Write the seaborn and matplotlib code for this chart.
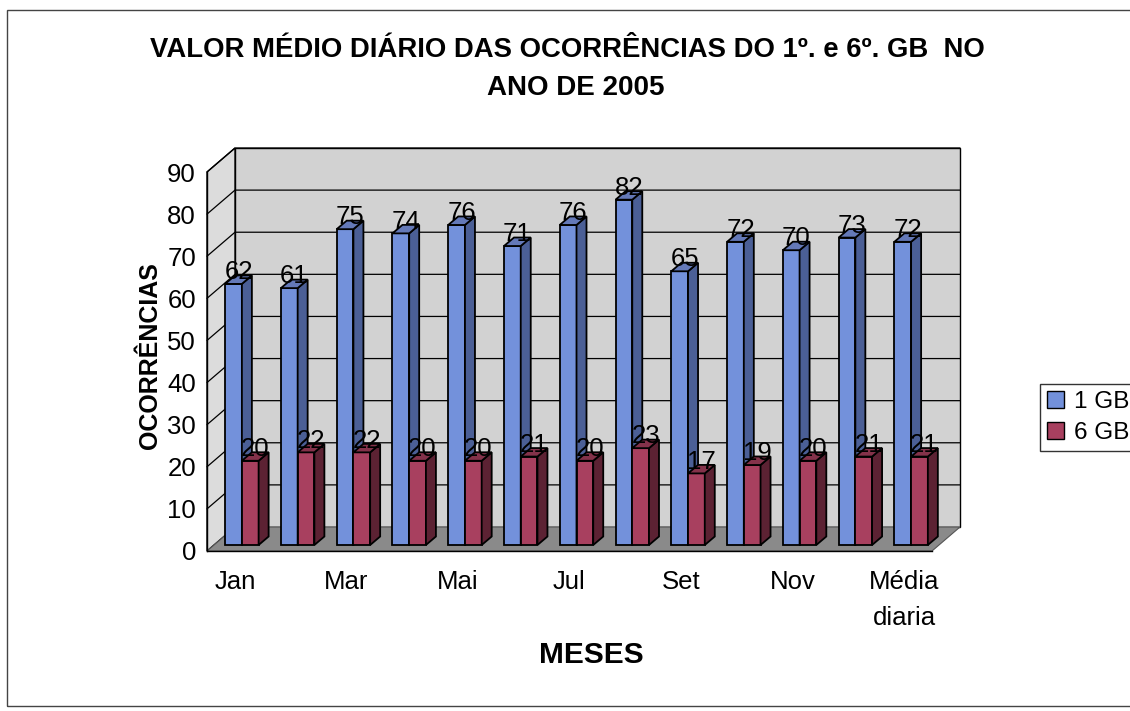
import pandas as pd
import matplotlib
matplotlib.use("Agg")
import matplotlib.pyplot as plt
from matplotlib.patches import Polygon, Rectangle, Patch
import seaborn as sns

# --- DATA ---
meses = ["Jan", "Fev", "Mar", "Abr", "Mai", "Jun", "Jul", "Ago",
         "Set", "Out", "Nov", "Dez", "Média\ndiaria"]
gb1 = [62, 61, 75, 74, 76, 71, 76, 82, 65, 72, 70, 73, 72]
gb6 = [20, 22, 22, 20, 20, 21, 20, 23, 17, 19, 20, 21, 21]
series = ["1 GB", "6 GB"]

df = pd.DataFrame({
    "mes": meses * 2,
    "valor": gb1 + gb6,
    "serie": [series[0]] * len(meses) + [series[1]] * len(meses),
})

# --- STYLE ---
sns.set_style("white")
plt.rcParams["font.family"] = ["Liberation Sans", "DejaVu Sans"]
for k in ["text.color", "axes.labelcolor", "xtick.color", "ytick.color"]:
    plt.rcParams[k] = "black"

front = {"1 GB": "#7391db", "6 GB": "#a8405f"}
side = {"1 GB": "#4b5f96", "6 GB": "#5c2233"}
top = {"1 GB": "#6479b8", "6 GB": "#84324a"}

fig = plt.figure(figsize=(11.3, 7.11), dpi=100)
W, H = 1130, 711
ax = fig.add_axes([207 / W, (H - 551) / H, 725 / W, 379 / H])

sns.barplot(data=df, x="mes", y="valor", hue="serie", order=meses,
            hue_order=series, palette=front, width=0.6, saturation=1,
            edgecolor="black", linewidth=1.3, legend=False, ax=ax)

ax.set_xlim(-0.5, len(meses) - 0.5)
ax.set_ylim(0, 90)

# pseudo 3D offsets (data units)
px_x = 725 / len(meses)
px_y = 379 / 90
dxw, dyw = 28 / px_x, 24 / px_y          # back wall depth
dxb, dyb = 7 / px_x, 6 / px_y            # bar front plane
ddx, ddy = 10 / px_x, 8.5 / px_y         # bar depth

x0, x1 = -0.5, len(meses) - 0.5
wall_kw = dict(clip_on=False, edgecolor="black", linewidth=1.0)
ax.add_patch(Polygon([(x0 + dxw, dyw), (x1 + dxw, dyw), (x1 + dxw, 90 + dyw),
                      (x0 + dxw, 90 + dyw)], facecolor="#d2d2d2", zorder=0.5, **wall_kw))
ax.add_patch(Polygon([(x0, 0), (x0, 90), (x0 + dxw, 90 + dyw), (x0 + dxw, dyw)],
                     facecolor="#dcdcdc", zorder=0.5, **wall_kw))
ax.add_patch(Polygon([(x0, 0), (x1, 0), (x1 + dxw, dyw), (x0 + dxw, dyw)],
                     facecolor="#8a8a8a", zorder=0.6, clip_on=False,
                     edgecolor="#555555", linewidth=0.8))
for k in range(10, 100, 10):
    ax.plot([x0, x0 + dxw, x1 + dxw], [k, k + dyw, k + dyw], color="black",
            lw=0.9, clip_on=False, zorder=0.7)

# bars: shift front faces and add side / top faces
for h_i, (serie, cont) in enumerate(zip(series, ax.containers)):
    for i, p in enumerate(cont.patches):
        z = 2 + i * 2 + h_i
        x, w, h = p.get_x() + dxb, p.get_width(), p.get_height()
        p.set_x(x)
        p.set_y(dyb)
        p.set_zorder(z)
        p.set_clip_on(False)
        sf = Polygon([(x + w, dyb), (x + w + ddx, dyb + ddy),
                      (x + w + ddx, dyb + ddy + h), (x + w, dyb + h)],
                     facecolor=side[serie], edgecolor="black", lw=1.3,
                     zorder=z, clip_on=False)
        tf = Polygon([(x, dyb + h), (x + w, dyb + h), (x + w + ddx, dyb + h + ddy),
                      (x + ddx, dyb + h + ddy)],
                     facecolor=top[serie], edgecolor="black", lw=1.3,
                     zorder=z, clip_on=False)
        ax.add_patch(sf)
        ax.add_patch(tf)
        ax.text(x + w / 2 + ddx / 2, h + dyb + 2.8, f"{h:.0f}", ha="center",
                va="center", fontsize=18.5, zorder=40, clip_on=False)

# axes
for s in ["top", "right"]:
    ax.spines[s].set_visible(False)
for s in ["left", "bottom"]:
    ax.spines[s].set_linewidth(1.0)
    ax.spines[s].set_color("black")
    ax.spines[s].set_zorder(1)
ax.set_yticks(range(0, 100, 10))
ax.tick_params(axis="y", length=6, width=1.0, labelsize=18.5, pad=2)
ax.set_xticks(range(len(meses)))
ax.set_xticklabels([m if i % 2 == 0 else "" for i, m in enumerate(meses)],
                   fontsize=18.5, linespacing=1.6)
ax.tick_params(axis="x", length=0, pad=14)
ax.set_xticks([i + 0.5 for i in range(-1, len(meses))], minor=True)
ax.tick_params(axis="x", which="minor", length=6, width=1.0)

ax.set_xlabel("MESES", fontsize=21.5, fontweight="bold", va="center")
ax.xaxis.set_label_coords((591 - 207) / 725, (551 - 655) / 379)
ax.set_ylabel("OCORRÊNCIAS", fontsize=18, fontweight="bold", va="center")
ax.yaxis.set_label_coords((150 - 207) / 725, (551 - 356) / 379)
ax.patch.set_alpha(0)

fig.text(567 / W, 1 - 50 / H,
         "VALOR MÉDIO DIÁRIO DAS OCORRÊNCIAS DO 1º. e 6º. GB  NO",
         ha="center", va="center", fontsize=19.8, fontweight="bold")
fig.text(576 / W, 1 - 88 / H, "ANO DE 2005", ha="center", va="center",
         fontsize=20, fontweight="bold")

handles = [Patch(facecolor=front[s], edgecolor="black", label=s) for s in series]
fig.legend(handles=handles, loc="upper left", bbox_to_anchor=(1040 / W, 1 - 384 / H),
           fontsize=17.5, frameon=True, fancybox=False, edgecolor="black",
           handlelength=0.7, handleheight=0.7, handletextpad=0.4,
           borderpad=0.3, labelspacing=0.35, borderaxespad=0)

# outer border of the chart area
fig.patches.append(Rectangle((7 / W, 5 / H), 1.2, 1 - 15 / H, transform=fig.transFigure,
                             fill=False, edgecolor="#444444", lw=1.0, figure=fig))

fig.savefig("out.png", dpi=100)
